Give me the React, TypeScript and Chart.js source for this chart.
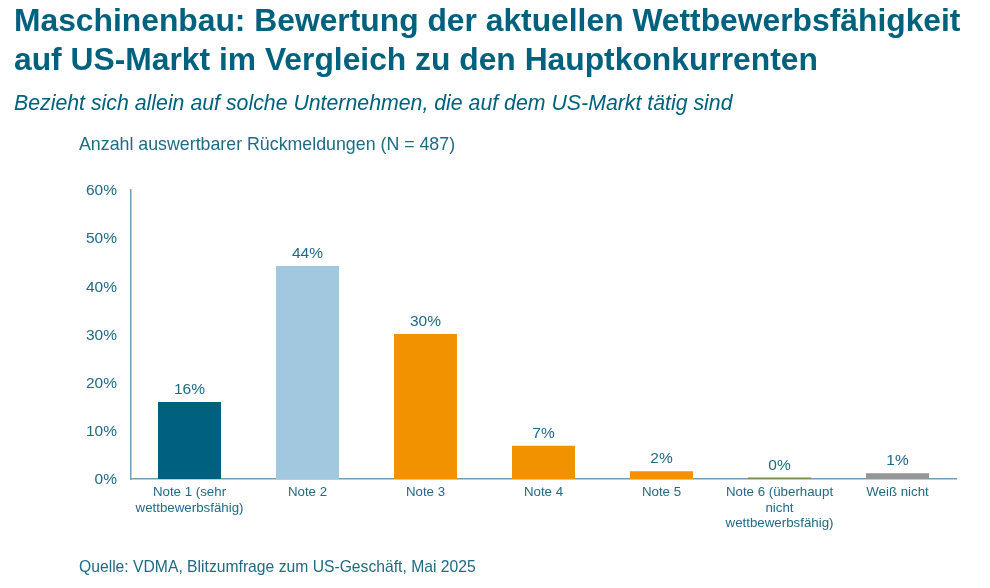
import React, { useEffect, useRef } from "react";
import { Chart, registerables } from "chart.js";

Chart.register(...registerables);

const categories = [
  ["Note 1 (sehr", "wettbewerbsfähig)"],
  "Note 2",
  "Note 3",
  "Note 4",
  "Note 5",
  ["Note 6 (überhaupt", "nicht", "wettbewerbsfähig)"],
  "Weiß nicht",
];
const values = [16, 44.2, 30.1, 6.9, 1.6, 0.3, 1.2];
const valueLabels = ["16%", "44%", "30%", "7%", "2%", "0%", "1%"];
const barColors = ["#00617F", "#A2C8DF", "#F39200", "#F39200", "#F39200", "#7F8A4E", "#969696"];

const TITLE_LINES = [
  "Maschinenbau: Bewertung der aktuellen Wettbewerbsfähigkeit",
  "auf US-Markt im Vergleich zu den Hauptkonkurrenten",
];
const SUBTITLE = "Bezieht sich allein auf solche Unternehmen, die auf dem US-Markt tätig sind";
const NOTE = "Anzahl auswertbarer Rückmeldungen (N = 487)";
const SOURCE = "Quelle: VDMA, Blitzumfrage zum US-Geschäft, Mai 2025";

const TEAL = "#1F6A85";
const FONT = "'Liberation Sans', Arial, sans-serif";

const valueLabelPlugin = {
  id: "valueLabels",
  afterDatasetsDraw(chart: any) {
    const { ctx } = chart;
    const meta = chart.getDatasetMeta(0);
    ctx.save();
    ctx.font = `15.5px ${FONT}`;
    ctx.fillStyle = TEAL;
    ctx.textAlign = "center";
    ctx.textBaseline = "alphabetic";
    meta.data.forEach((bar: any, i: number) => {
      ctx.fillText(valueLabels[i], bar.x, bar.y - 8);
    });
    ctx.restore();
  },
};

const textStyle = (left: number, top: number, size: number, extra: any = {}) => ({
  position: "absolute" as const,
  left,
  top,
  fontFamily: FONT,
  fontSize: size,
  color: TEAL,
  whiteSpace: "nowrap" as const,
  lineHeight: 1,
  ...extra,
});

export default function App() {
  const ref = useRef<HTMLCanvasElement | null>(null);

  useEffect(() => {
    document.body.style.margin = "0";
    document.body.style.background = "#fff";
    const chart = new Chart(ref.current!, {
      type: "bar",
      data: {
        labels: categories as any,
        datasets: [
          {
            data: values,
            backgroundColor: barColors,
            categoryPercentage: 1,
            barPercentage: 0.534,
          },
        ],
      },
      options: {
        responsive: false,
        animation: false,
        layout: { padding: { left: 70.5, right: 33.5, top: 190, bottom: 29 } },
        plugins: { legend: { display: false }, tooltip: { enabled: false } },
        scales: {
          x: {
            afterFit: (s: any) => {
              s.height = 80;
            },
            grid: { display: false, drawTicks: false },
            border: { display: true, color: "#6F9FB3", width: 1.5 },
            ticks: {
              color: TEAL,
              font: { family: FONT, size: 13.3, lineHeight: 1.15 },
              padding: 6,
              maxRotation: 0,
              minRotation: 0,
              autoSkip: false,
            },
          },
          y: {
            min: 0,
            max: 60,
            afterFit: (s: any) => {
              s.width = 60;
            },
            grid: { display: false, drawTicks: false },
            border: { display: true, color: "#6F9FB3", width: 1.5 },
            ticks: {
              stepSize: 10,
              color: TEAL,
              font: { family: FONT, size: 15.5 },
              padding: 13.5,
              labelOffset: 1,
              callback: (v: any) => `${v}%`,
            },
          },
        },
      },
      plugins: [valueLabelPlugin],
    } as any);
    return () => chart.destroy();
  }, []);

  return (
    <div style={{ position: "relative", width: 990, height: 588, overflow: "hidden", background: "#fff" }}>
      <canvas ref={ref} width={990} height={588} style={{ position: "absolute", left: 0, top: 0, display: "block" }} />
      {TITLE_LINES.map((line, i) => (
        <div key={i} style={textStyle(14, 5 + i * 39, 31.8, { fontWeight: 700, color: "#00617F" })}>
          {line}
        </div>
      ))}
      <div style={textStyle(14, 93, 21.3, { fontStyle: "italic", color: "#00617F" })}>{SUBTITLE}</div>
      <div style={textStyle(79, 136, 17.8)}>{NOTE}</div>
      <div style={textStyle(79, 559, 15.7)}>{SOURCE}</div>
    </div>
  );
}
